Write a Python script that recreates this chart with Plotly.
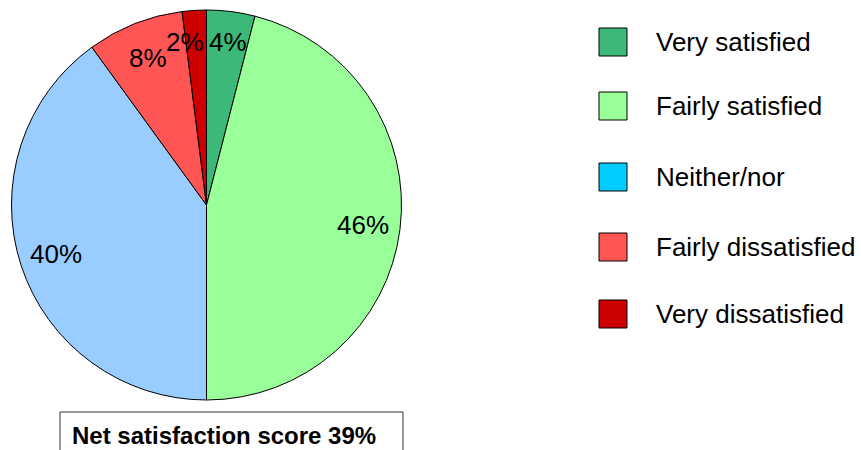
import math
import plotly.graph_objects as go

# Satisfaction breakdown (percent of respondents)
categories = ["Very satisfied", "Fairly satisfied", "Neither/nor",
              "Fairly dissatisfied", "Very dissatisfied"]
values = [4, 46, 40, 8, 2]
slice_colors = ["#3CB878", "#99FF99", "#99CCFF", "#FF5555", "#CC0000"]
legend_colors = ["#3CB878", "#99FF99", "#00CCFF", "#FF5555", "#CC0000"]
net_score_label = "Net satisfaction score 39%"

W, H = 861, 450
# pie geometry in pixels
cx, cy, R = 206.5, 205.0, 195.0
FONT = "Liberation Sans, Arial, sans-serif"

fig = go.Figure()
fig.add_trace(go.Pie(
    labels=categories,
    values=values,
    sort=False,
    direction="clockwise",
    rotation=0,
    marker=dict(colors=slice_colors, line=dict(color="black", width=1)),
    textinfo="none",
    hoverinfo="label+percent",
    showlegend=False,
    domain=dict(x=[(cx - R) / W, (cx + R) / W],
                y=[(H - cy - R) / H, (H - cy + R) / H]),
))

annotations = []
shapes = []

# percentage labels inside slices
total = sum(values)
cum = 0
for v in values:
    mid = (cum + v / 2) / total * 2 * math.pi
    cum += v
    small = v / total < 0.05
    r = (0.84 if small else 0.81) * R
    px = cx + r * math.sin(mid)
    py = cy - r * math.cos(mid)
    anchor = "center"
    if small:
        # thin slices near the top: hug the label to the slice side
        anchor = "left" if math.sin(mid) > 0 else "right"
        px = cx + (0.5 if math.sin(mid) > 0 else -0.5)
    annotations.append(dict(
        x=px / W, y=(H - py) / H, xref="paper", yref="paper",
        text=f"{round(v / total * 100)}%", showarrow=False,
        font=dict(family=FONT, size=26, color="black"),
        xanchor=anchor, yanchor="middle",
    ))

# legend drawn as swatches + text
legend_y = [42, 106, 177, 247, 314]
for name, col, ly in zip(categories, legend_colors, legend_y):
    shapes.append(dict(
        type="rect", xref="paper", yref="paper",
        x0=599 / W, x1=627 / W, y0=(H - ly - 14) / H, y1=(H - ly + 14) / H,
        fillcolor=col, line=dict(color="black", width=1),
    ))
    annotations.append(dict(
        x=654 / W, y=(H - ly) / H, xref="paper", yref="paper",
        text=name, showarrow=False, xanchor="left", yanchor="middle",
        font=dict(family=FONT, size=26, color="black"),
    ))

# net score box
shapes.append(dict(
    type="rect", xref="paper", yref="paper",
    x0=60 / W, x1=403 / W, y0=-10 / H, y1=(H - 412) / H,
    fillcolor="white", line=dict(color="#333333", width=1),
))
annotations.append(dict(
    x=70 / W, y=(H - 435) / H, xref="paper", yref="paper",
    text=f"<b>{net_score_label}</b>", showarrow=False,
    xanchor="left", yanchor="middle",
    font=dict(family=FONT, size=24, color="black"),
))

fig.update_layout(
    width=W, height=H,
    margin=dict(l=0, r=0, t=0, b=0),
    paper_bgcolor="white", plot_bgcolor="white",
    shapes=shapes, annotations=annotations,
)

fig.write_html("out.html")
